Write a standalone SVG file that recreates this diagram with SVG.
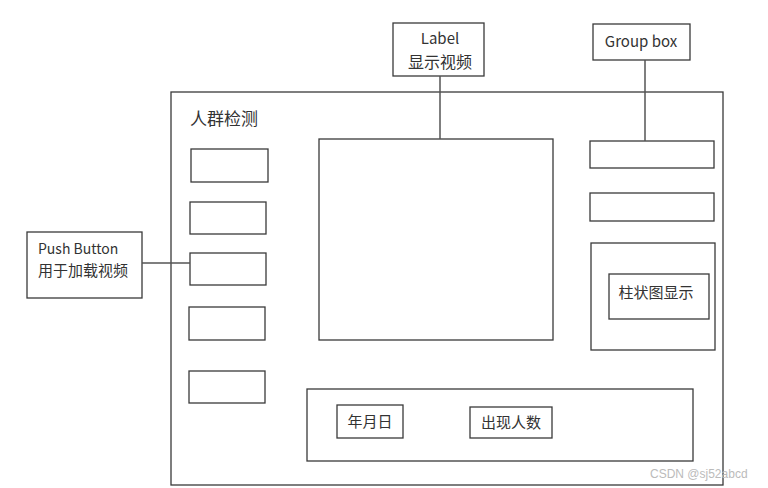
<svg xmlns="http://www.w3.org/2000/svg" width="768" height="488" viewBox="0 0 768 488">
<style>
rect{fill:#fff;stroke:#3a3a3a;stroke-width:1.3}
.c line{stroke:#555;stroke-width:1.5}
text{font-family:"Noto Sans CJK SC","Noto Sans",sans-serif;fill:#333;font-size:15px}
.m{text-anchor:middle}
</style>
<rect x="0" y="0" width="768" height="488" style="stroke:none"/>
<g id="frame"><rect x="171" y="92" width="552" height="393"/>
<text x="190" y="125" style="font-size:17px">人群检测</text></g>
<g id="video"><rect x="319" y="139" width="234" height="201"/></g>
<g id="btn1"><rect x="191" y="149" width="77" height="33"/></g>
<g id="btn2"><rect x="190" y="202" width="76" height="32"/></g>
<g id="btn3"><rect x="190" y="253" width="76" height="32"/></g>
<g id="btn4"><rect x="189" y="307" width="76" height="33"/></g>
<g id="btn5"><rect x="189" y="371" width="76" height="32"/></g>
<g id="r1"><rect x="590" y="141" width="124" height="27"/></g>
<g id="r2"><rect x="590" y="193" width="124" height="28"/></g>
<g id="groupbox"><rect x="591" y="243" width="124" height="107"/>
<rect x="609" y="274" width="100" height="45"/>
<text x="656" y="298" class="m">柱状图显示</text></g>
<g id="bottom"><rect x="307" y="389" width="386" height="72"/>
<rect x="337" y="405" width="66" height="33"/>
<text x="370" y="427" class="m">年月日</text>
<rect x="470" y="407" width="82" height="31"/>
<text x="511" y="428" class="m">出现人数</text></g>
<g id="label"><rect x="393" y="23" width="91" height="53"/>
<text x="440" y="44" class="m">Label</text>
<text x="440" y="68" class="m" style="font-size:16px">显示视频</text></g>
<g id="groupboxlabel"><rect x="593" y="24" width="97" height="36"/>
<text x="641" y="47" class="m">Group box</text></g>
<g id="pushbutton"><rect x="27" y="232" width="115" height="66"/>
<text x="38" y="254" style="font-size:14px">Push Button</text>
<text x="38" y="276">用于加载视频</text></g>
<g class="c" id="connectors">
<line x1="440" y1="76" x2="440" y2="139"/>
<line x1="645" y1="60" x2="645" y2="141"/>
<line x1="142" y1="263" x2="190" y2="263"/>
</g>
<text x="650" y="478" style="font-size:12px;fill:#bbb;font-family:'Liberation Sans',sans-serif">CSDN @sj52abcd</text>
</svg>
